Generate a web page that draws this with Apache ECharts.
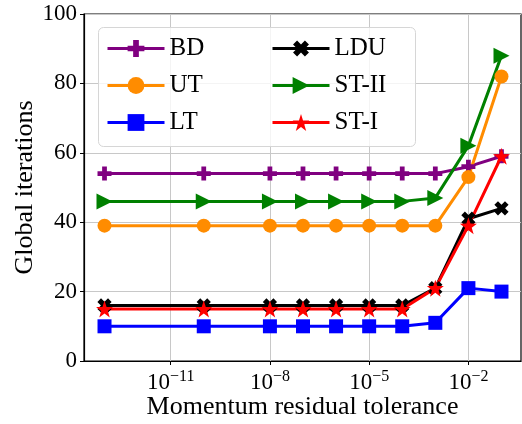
<!DOCTYPE html>
<html><head><meta charset="utf-8">
<script src="https://cdn.jsdelivr.net/npm/echarts@6/dist/echarts.min.js"></script>
<style>html,body{margin:0;padding:0;background:#fff}#c{width:522px;height:424px}</style>
</head><body><div id="c"></div>
<script>
// Momentum residual tolerance sweep
const tolerances = [1e-13, 1e-10, 1e-8, 1e-7, 1e-6, 1e-5, 1e-4, 1e-3, 1e-2, 1e-1];
const bd  = [54, 54, 54, 54, 54, 54, 54, 54, 56, 59];
const ut  = [39, 39, 39, 39, 39, 39, 39, 39, 53, 82];
const lt  = [10, 10, 10, 10, 10, 10, 10, 11, 21, 20];
const ldu = [16, 16, 16, 16, 16, 16, 16, 21, 41, 44];
const st2 = [46, 46, 46, 46, 46, 46, 46, 47, 62, 88];
const st1 = [15, 15, 15, 15, 15, 15, 15, 21, 39, 59];
const xTickExponents = [-11, -8, -5, -2];
const yTicks = [0, 20, 40, 60, 80, 100];

const FONT = 'Liberation Serif';

// marker shapes
const plusPath = 'path://M3.3,0H6.7V3.3H10V6.7H6.7V10H3.3V6.7H0V3.3H3.3Z';
const triRight = 'path://M0,0L10,5L0,10Z';
function starPath() {
  const pts = [];
  for (let k = 0; k < 10; k++) {
    const r = k % 2 === 0 ? 10 : 3.9;
    const a = (-90 + k * 36) * Math.PI / 180;
    pts.push((10 + r * Math.cos(a)).toFixed(2) + ',' + (10 + r * Math.sin(a)).toFixed(2));
  }
  return 'path://M' + pts.join('L') + 'Z';
}

const lx = tolerances.map(t => Math.log10(t));
const pairs = ys => ys.map((v, i) => [lx[i], v]);

function mk(name, ys, color, symbol, size, extra) {
  return Object.assign({
    name, type: 'line', data: pairs(ys), symbol, symbolSize: size,
    lineStyle: { color, width: 3 }, itemStyle: { color },
    showSymbol: true, animation: false
  }, extra || {});
}

const series = [
  mk('BD', bd, '#800080', plusPath, 14),
  mk('UT', ut, '#ff8c00', 'circle', 14),
  mk('LT', lt, '#0000ff', 'rect', 14),
  mk('LDU', ldu, '#000000', plusPath, 15, { symbolRotate: 45 }),
  mk('ST-II', st2, '#008000', triRight, 16),
  mk('ST-I', st1, '#ff0000', starPath(), 17)
];

const chart = echarts.init(document.getElementById('c'), null, { renderer: 'canvas' });
const legendCommon = {
  orient: 'vertical', padding: 0, itemWidth: 57, itemHeight: 21, itemGap: 12,
  lineStyle: { width: 3 },
  formatter: '{t|{name}}',
  textStyle: {
    fontFamily: FONT, fontSize: 25, color: '#000', lineHeight: 25,
    rich: { t: { fontFamily: FONT, fontSize: 25, color: '#000', lineHeight: 25 } }
  },
  z: 6
};
chart.setOption({
  backgroundColor: '#fff',
  animation: false,
  textStyle: { fontFamily: FONT },
  grid: {
    left: 84, right: 1, top: 14, bottom: 63, show: true,
    borderColor: '#000', borderWidth: 1.2,
    containLabel: false, outerBoundsMode: 'none'
  },
  xAxis: {
    type: 'value', min: -13.62, max: -0.41,
    name: 'Momentum residual tolerance', nameLocation: 'middle', nameGap: 33,
    nameMoveOverlap: false,
    nameTextStyle: { fontFamily: FONT, fontSize: 26, color: '#000' },
    axisLine: { show: true, lineStyle: { color: '#000', width: 1.2 } },
    axisTick: { show: true, customValues: xTickExponents, length: 4, lineStyle: { color: '#000' } },
    splitLine: { show: true, customValues: xTickExponents, lineStyle: { color: '#c8c8c8', width: 1 } },
    axisLabel: {
      customValues: xTickExponents, margin: 8,
      formatter: v => '{b|10}{s|\u2212' + Math.abs(v) + '}',
      rich: {
        b: { fontFamily: FONT, fontSize: 23, color: '#000' },
        s: { fontFamily: FONT, fontSize: 16, color: '#000', padding: [0, 0, 11, 0] }
      }
    }
  },
  yAxis: {
    type: 'value', min: yTicks[0], max: yTicks[yTicks.length - 1], interval: 20,
    name: 'Global iterations', nameLocation: 'middle', nameGap: 46,
    nameMoveOverlap: false,
    nameTextStyle: { fontFamily: FONT, fontSize: 26, color: '#000' },
    axisLine: { show: true, lineStyle: { color: '#000', width: 1.2 } },
    axisTick: { show: true, length: 4, lineStyle: { color: '#000' } },
    splitLine: { show: true, lineStyle: { color: '#c8c8c8', width: 1 } },
    axisLabel: { fontFamily: FONT, fontSize: 23, color: '#000', margin: 7 }
  },
  legend: [
    Object.assign({ data: ['BD', 'UT', 'LT'], left: 106, top: 36 }, legendCommon),
    Object.assign({ data: ['LDU', 'ST-II', 'ST-I'], left: 271, top: 36 }, legendCommon)
  ],
  graphic: [{
    type: 'rect', left: 98, top: 27, z: 5,
    shape: { width: 317, height: 119, r: 5 },
    style: { fill: 'rgba(255,255,255,0.8)', stroke: '#d6d6d6', lineWidth: 1 }
  }],
  series
});
</script></body></html>
